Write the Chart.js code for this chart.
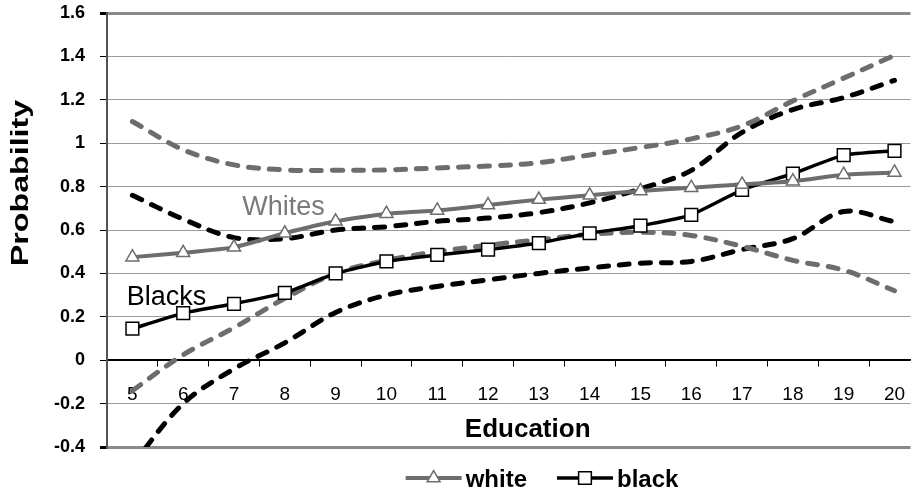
<!DOCTYPE html>
<html>
<head>
<meta charset="utf-8">
<script src="https://cdn.jsdelivr.net/npm/chart.js@4.4.1/dist/chart.umd.min.js"></script>
<style>
    html, body { margin: 0; padding: 0; background: #fff; overflow: hidden; }
    #wrap { width: 921px; height: 495px; position: relative; }
</style>
</head>
<body>
<div id="wrap"><canvas id="chart"></canvas></div>
<script>
// Predicted probability by years of education, with confidence bands
const education  = [5, 6, 7, 8, 9, 10, 11, 12, 13, 14, 15, 16, 17, 18, 19, 20];
const white      = [0.475, 0.495, 0.52, 0.585, 0.64, 0.675, 0.69, 0.715, 0.74, 0.76, 0.78, 0.795, 0.81, 0.825, 0.855, 0.865];
const black      = [0.145, 0.217, 0.26, 0.31, 0.40, 0.455, 0.485, 0.51, 0.54, 0.585, 0.62, 0.67, 0.785, 0.86, 0.945, 0.965];
const whiteUpper = [1.10, 0.97, 0.90, 0.877, 0.875, 0.877, 0.886, 0.895, 0.91, 0.946, 0.98, 1.02, 1.08, 1.195, 1.30, 1.405];
const whiteLower = [-0.14, 0.025, 0.15, 0.285, 0.40, 0.46, 0.50, 0.53, 0.555, 0.58, 0.59, 0.575, 0.525, 0.46, 0.415, 0.32];
const blackUpper = [0.76, 0.65, 0.565, 0.56, 0.60, 0.615, 0.64, 0.655, 0.68, 0.725, 0.79, 0.875, 1.05, 1.155, 1.21, 1.29];
const blackLower = [-0.48, -0.2, -0.04, 0.08, 0.22, 0.30, 0.34, 0.37, 0.40, 0.425, 0.447, 0.455, 0.51, 0.56, 0.685, 0.638];
const yTicks     = [-0.4, -0.2, 0, 0.2, 0.4, 0.6, 0.8, 1, 1.2, 1.4, 1.6];

// text placed in data coordinates
const notes = [
    { text: "Whites", x: 7.16, y: 0.67,  color: "#7a7a7a" },
    { text: "Blacks", x: 4.89, y: 0.254, color: "#000" },
];

const GRAY = "#6d6d6d";
const pts = arr => education.map((e, i) => ({ x: e, y: arr[i] }));

const dashed = (arr, color) => ({
    data: pts(arr),
    borderColor: color,
    borderWidth: 5,
    borderDash: [10, 11],
    borderCapStyle: "round",
    tension: 0.35,
    pointRadius: 0,
    fill: false,
});

// annotations under the lines
const notesPlugin = {
    id: "notes",
    beforeDatasetsDraw(chart) {
        const { ctx, scales: { x, y } } = chart;
        ctx.save();
        ctx.font = "27px 'Liberation Sans', Arial, sans-serif";
        ctx.textAlign = "left";
        ctx.textBaseline = "alphabetic";
        notes.forEach(n => {
            ctx.fillStyle = n.color;
            ctx.fillText(n.text, x.getPixelForValue(n.x), y.getPixelForValue(n.y));
        });
        ctx.restore();
    }
};

// axis titles and the line+marker legend
const framePlugin = {
    id: "frame",
    afterDraw(chart) {
        const { ctx, scales: { x, y } } = chart;
        ctx.save();
        ctx.fillStyle = "#000";

        // x title sits inside the plot, under the tick labels
        ctx.font = "bold 26px 'Liberation Sans', Arial, sans-serif";
        ctx.textAlign = "center";
        ctx.textBaseline = "alphabetic";
        ctx.fillText("Education", x.getPixelForValue(12.78), y.getPixelForValue(-0.355));

        // y title, stretched along its length like the original
        ctx.save();
        ctx.translate(22, 183);
        ctx.rotate(-Math.PI / 2);
        ctx.scale(1.4, 1);
        ctx.font = "bold 23px 'Liberation Sans', Arial, sans-serif";
        ctx.textBaseline = "middle";
        ctx.fillText("Probability", 0, 0);
        ctx.restore();

        // legend
        const items = chart.data.datasets.filter(d => d.inLegend);
        ctx.font = "bold 24px 'Liberation Sans', Arial, sans-serif";
        ctx.textAlign = "left";
        ctx.textBaseline = "middle";
        const lineLen = 56, gap = 4, between = 30, ly = 478;
        const widths = items.map(d => lineLen + gap + ctx.measureText(d.label).width);
        const total = widths.reduce((a, b) => a + b, 0) + between * (items.length - 1);
        let lx = 542 - total / 2;
        items.forEach((d, i) => {
            ctx.strokeStyle = d.borderColor;
            ctx.lineWidth = d.borderWidth;
            ctx.beginPath();
            ctx.moveTo(lx, ly);
            ctx.lineTo(lx + lineLen, ly);
            ctx.stroke();

            const cx = lx + lineLen / 2, r = d.pointRadius;
            ctx.fillStyle = "#fff";
            ctx.lineWidth = d.pointBorderWidth;
            ctx.strokeStyle = d.pointBorderColor;
            ctx.beginPath();
            if (d.pointStyle === "triangle") {
                let a = 0;
                for (let k = 0; k < 3; k++, a += 2 * Math.PI / 3) {
                    ctx[k ? "lineTo" : "moveTo"](cx + Math.sin(a) * r, ly - Math.cos(a) * r);
                }
                ctx.closePath();
            } else {
                const s = Math.SQRT1_2 * r;
                ctx.rect(cx - s, ly - s, 2 * s, 2 * s);
            }
            ctx.fill();
            ctx.stroke();

            ctx.fillStyle = "#000";
            ctx.fillText(d.label, lx + lineLen + gap, ly + 2);
            lx += widths[i] + between;
        });
        ctx.restore();
    }
};

new Chart(document.getElementById("chart"), {
    type: "line",
    data: {
        datasets: [
            {
                label: "white", inLegend: true,
                data: pts(white),
                borderColor: GRAY, borderWidth: 4, tension: 0.15,
                pointStyle: "triangle", pointRadius: 7.5, pointBorderWidth: 1.5,
                pointBorderColor: GRAY, pointBackgroundColor: "#fff",
            },
            {
                label: "black", inLegend: true,
                data: pts(black),
                borderColor: "#000", borderWidth: 3.5, tension: 0.15,
                pointStyle: "rect", pointRadius: 9, pointBorderWidth: 1.5,
                pointBorderColor: "#000", pointBackgroundColor: "#fff",
            },
            dashed(whiteUpper, GRAY),
            dashed(whiteLower, GRAY),
            dashed(blackUpper, "#000"),
            dashed(blackLower, "#000"),
        ]
    },
    options: {
        responsive: true, maintainAspectRatio: false, animation: false,
        layout: { padding: { top: 13, bottom: 48, left: 0, right: 0 } },
        plugins: { legend: { display: false }, tooltip: { enabled: false } },
        scales: {
            x: {
                type: "linear", min: 4.5, max: 20.315,
                position: { y: 0 },
                afterBuildTicks: s => { s.ticks = education.map(v => ({ value: v })); },
                // axis sits on the zero line, so it takes no room in the layout
                afterFit: s => { s.height = 0; s.paddingTop = 0; s.paddingBottom = 0; s.paddingLeft = 0; s.paddingRight = 0; },
                ticks: {
                    color: "#000", padding: 17, autoSkip: false, maxRotation: 0,
                    font: { family: "'Liberation Sans', Arial, sans-serif", size: 19 },
                    callback: v => String(v),
                },
                grid: { offset: true, drawOnChartArea: false, drawTicks: true, tickLength: 6, tickColor: "#000", lineWidth: 1 },
                border: { color: "#000", width: 1.5 },
            },
            y: {
                min: -0.4, max: 1.6,
                afterBuildTicks: s => { s.ticks = yTicks.map(v => ({ value: v })); },
                afterFit: s => { s.width = 107; s.paddingTop = 0; s.paddingBottom = 0; },
                ticks: {
                    color: "#000", padding: 15,
                    font: { family: "'Liberation Sans', Arial, sans-serif", weight: "bold", size: 18 },
                    callback: v => String(+v.toFixed(1)),
                },
                grid: {
                    color: c => {
                        const v = c.tick ? +c.tick.value.toFixed(1) : 0;
                        if (v === 1.6 || v === -0.4) return "#8a8a8a";
                        if (v === 0) return "#000";
                        return "#9a9a9a";
                    },
                    lineWidth: c => {
                        const v = c.tick ? +c.tick.value.toFixed(1) : 0;
                        return (v === 1.6 || v === -0.4) ? 3 : 1;
                    },
                    tickColor: "#000", tickLength: 7,
                },
                border: { color: "#555", width: 2 },
            }
        }
    },
    plugins: [notesPlugin, framePlugin]
});
</script>
</body>
</html>
